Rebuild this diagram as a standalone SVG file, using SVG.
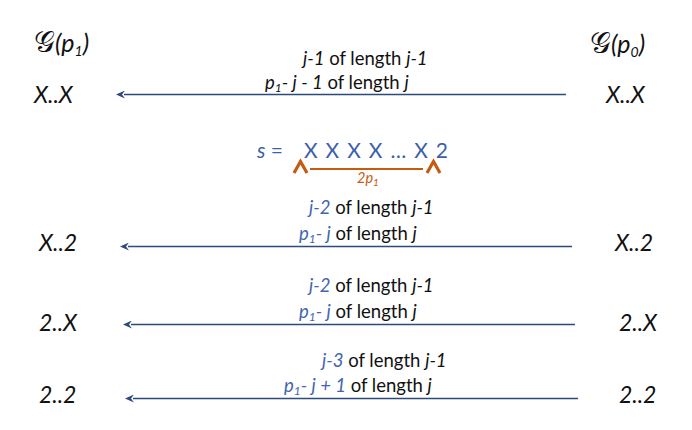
<svg xmlns="http://www.w3.org/2000/svg" width="692" height="430" viewBox="0 0 692 430">
<style>
  text { font-family: Lato, "Open Sans", "Liberation Sans", sans-serif; fill: #111; }
  .node { font-size: 23px; font-style: italic; }
  .head { font-size: 25px; font-style: italic; }
  .g { font-family: "DejaVu Sans", sans-serif; font-style: normal; font-size: 29px; }
  .lbl { font-size: 18.5px; }
  .i { font-style: italic; }
  .b { fill: #4166B0; }
  .sub { font-size: 12px; }
  .hsub { font-size: 14px; }
  .seq { font-size: 21px; fill: #3D5FA8; }
  .or { fill: #C55A11; }
  .conn { stroke: #2E4A7D; stroke-width: 1.5; fill: none; }
</style>
<defs>
  <marker id="ah" viewBox="0 0 9 8" refX="1" refY="4" markerWidth="9" markerHeight="8" markerUnits="userSpaceOnUse" orient="auto">
    <path d="M9,4 L0,0 L3,4 L0,8 Z" fill="#2E4A7D"/>
  </marker>
</defs>

<g id="node-Gp1"><text class="head" x="34" y="52"><tspan class="g">𝒢</tspan>(p<tspan class="hsub" dy="4">1</tspan><tspan dy="-4">)</tspan></text></g>
<g id="node-Gp0"><text class="head" x="590" y="53"><tspan class="g">𝒢</tspan>(p<tspan class="hsub" dy="4">0</tspan><tspan dy="-4">)</tspan></text></g>

<g id="node-XX-left"><text class="node" x="34" y="103">X..X</text></g>
<g id="node-XX-right"><text class="node" x="606" y="103">X..X</text></g>
<g id="node-X2-left"><text class="node" x="39" y="251">X..2</text></g>
<g id="node-X2-right"><text class="node" x="615" y="251">X..2</text></g>
<g id="node-2X-left"><text class="node" x="39" y="331">2..X</text></g>
<g id="node-2X-right"><text class="node" x="619" y="331">2..X</text></g>
<g id="node-22-left"><text class="node" x="39" y="403">2..2</text></g>
<g id="node-22-right"><text class="node" x="619" y="403">2..2</text></g>

<g id="sequence">
  <text class="seq" x="257" y="158"><tspan class="i">s</tspan> =</text>
  <text class="seq" x="304" y="158" textLength="144" lengthAdjust="spacing">X X X X … X 2</text>
  <polyline points="294,173 300.5,161.5 307,173" fill="none" stroke="#C55A11" stroke-width="3.2" stroke-linejoin="miter"/>
  <polyline points="427,173 433.5,161.5 440,173" fill="none" stroke="#C55A11" stroke-width="3.2" stroke-linejoin="miter"/>
  <line x1="310" y1="169" x2="423" y2="169" stroke="#C55A11" stroke-width="2"/>
  <text class="or i" x="357" y="183" font-size="14.5">2p<tspan font-size="10" dy="3">1</tspan></text>
</g>

<g id="connectors">
  <line class="conn" x1="566" y1="94.5" x2="124" y2="94.5" marker-end="url(#ah)"/>
  <line class="conn" x1="572" y1="246.5" x2="128" y2="246.5" marker-end="url(#ah)"/>
  <line class="conn" x1="575" y1="324.5" x2="131" y2="324.5" marker-end="url(#ah)"/>
  <line class="conn" x1="578" y1="398.5" x2="133" y2="398.5" marker-end="url(#ah)"/>
</g>

<g id="labels">
  <text class="lbl" x="303" y="65"><tspan class="i">j-1</tspan> of length <tspan class="i">j-1</tspan></text>
  <text class="lbl" x="265" y="89"><tspan class="i">p</tspan><tspan class="i sub" dy="3">1</tspan><tspan class="i" dy="-3">- j - 1</tspan> of length <tspan class="i">j</tspan></text>

  <text class="lbl" x="309" y="214"><tspan class="i b">j-2</tspan> of length <tspan class="i">j-1</tspan></text>
  <text class="lbl" x="299" y="240"><tspan class="i b">p</tspan><tspan class="i b sub" dy="3">1</tspan><tspan class="i b" dy="-3">- j</tspan> of length <tspan class="i">j</tspan></text>

  <text class="lbl" x="309" y="292"><tspan class="i b">j-2</tspan> of length <tspan class="i">j-1</tspan></text>
  <text class="lbl" x="299" y="318"><tspan class="i b">p</tspan><tspan class="i b sub" dy="3">1</tspan><tspan class="i b" dy="-3">- j</tspan> of length <tspan class="i">j</tspan></text>

  <text class="lbl" x="322" y="367"><tspan class="i b">j-3</tspan> of length <tspan class="i">j-1</tspan></text>
  <text class="lbl" x="284" y="392"><tspan class="i b">p</tspan><tspan class="i b sub" dy="3">1</tspan><tspan class="i b" dy="-3">- j + 1</tspan> of length <tspan class="i">j</tspan></text>
</g>
</svg>
